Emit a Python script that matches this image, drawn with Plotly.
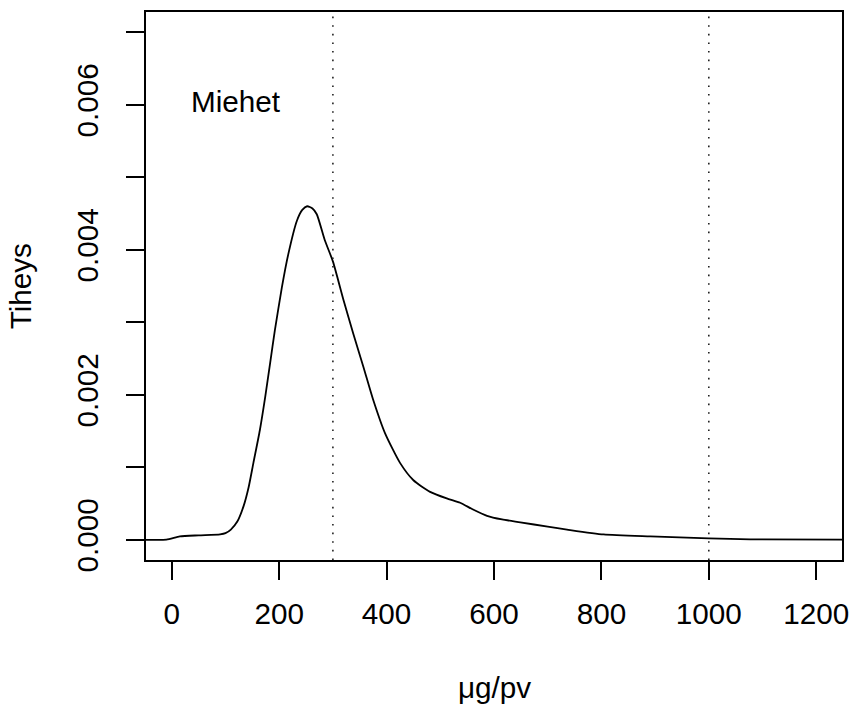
import plotly.graph_objects as go

# ---- data ----
x_vals = [-60, -10, 15, 50, 90, 100, 110, 122, 134, 143, 152, 164, 174, 183, 192,
          205, 217, 233, 243, 252, 262, 270, 285, 300, 320, 338, 357, 375, 397,
          425, 450, 481, 512, 537, 560, 587, 615, 649, 700, 736, 804, 891, 1000,
          1077, 1260]
y_vals = [0, 0, 0.000045, 0.00006, 0.000073, 0.00009, 0.00014, 0.00025, 0.00047,
          0.00072, 0.00106, 0.00151, 0.00197, 0.00243, 0.00289, 0.00348, 0.00394,
          0.0044, 0.00455, 0.0046, 0.00457, 0.00449, 0.00413, 0.00384, 0.0033,
          0.00284, 0.00238, 0.00193, 0.00147, 0.00106, 0.00082, 0.00066, 0.00057,
          0.00051, 0.00042, 0.00033, 0.00028, 0.00024, 0.00018, 0.00014, 0.000073,
          0.000045, 0.000018, 0.000004, 0]
ref_lines = [300, 1000]
x_ticks = [0, 200, 400, 600, 800, 1000, 1200]
x_tick_labels = ["0", "200", "400", "600", "800", "1000", "1200"]
y_ticks = [0, 0.001, 0.002, 0.003, 0.004, 0.005, 0.006, 0.007]
y_tick_labels = ["0.000", "", "0.002", "", "0.004", "", "0.006", ""]
label_text = "Miehet"
label_pos = (120, 0.006)
x_title = "μg/pv"
y_title = "Tiheys"

FONT = "Liberation Sans, Arial, Helvetica, sans-serif"
FS = 29.7

fig = go.Figure()
fig.add_trace(go.Scatter(x=x_vals, y=y_vals, mode="lines",
                         line=dict(color="black", width=1.8, shape="spline",
                                   smoothing=0.6),
                         showlegend=False, hoverinfo="skip"))
for xv in ref_lines:
    fig.add_vline(x=xv, line=dict(color="#222222", width=1.6, dash="1.6px,7px"))

fig.add_annotation(x=label_pos[0], y=label_pos[1], text=label_text, showarrow=False,
                   xanchor="center", yanchor="middle", yshift=3,
                   font=dict(family=FONT, size=FS, color="black"))
fig.add_annotation(xref="paper", yref="paper", x=0.5, y=-0.232, text=x_title,
                   showarrow=False, xanchor="center", yanchor="middle",
                   font=dict(family=FONT, size=FS, color="black"))
fig.add_annotation(xref="paper", yref="paper", x=-0.1805, y=0.5, text=y_title,
                   showarrow=False, xanchor="center", yanchor="middle", textangle=-90,
                   font=dict(family=FONT, size=FS, color="black"))

axis_common = dict(showgrid=False, zeroline=False, showline=True, linecolor="black",
                   linewidth=1.5, mirror=True, ticks="outside", ticklen=18,
                   tickwidth=1.5, tickcolor="black", automargin=False,
                   tickfont=dict(family=FONT, size=FS, color="black"))
fig.update_xaxes(range=[-48, 1248], tickmode="array", tickvals=x_ticks,
                 ticktext=x_tick_labels, ticklabelstandoff=9, **axis_common)
fig.update_yaxes(range=[-0.00028, 0.00728], tickmode="array", tickvals=y_ticks,
                 ticktext=y_tick_labels, tickangle=-90, ticklabelstandoff=16,
                 **axis_common)

fig.update_layout(width=851, height=708, autosize=False,
                  margin=dict(l=146, r=9.3, t=11.7, b=148, pad=0),
                  paper_bgcolor="white", plot_bgcolor="white",
                  font=dict(family=FONT, size=FS, color="black"))
fig.write_html("out.html")
